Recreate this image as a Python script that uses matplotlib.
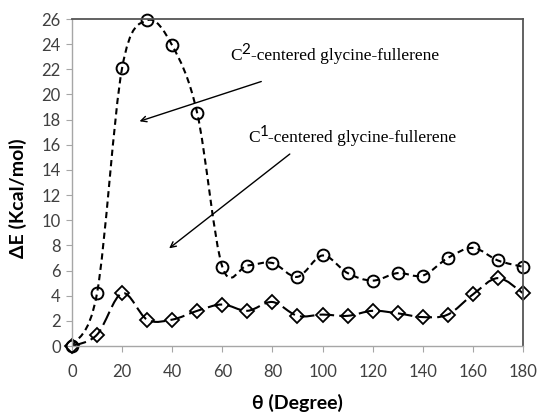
import numpy as np
import matplotlib
matplotlib.use("Agg")
import matplotlib.pyplot as plt
from matplotlib.path import Path
from matplotlib.patches import PathPatch

# data
theta = [0, 10, 20, 30, 40, 50, 60, 70, 80, 90, 100, 110, 120, 130, 140, 150, 160, 170, 180]
c2_energy = [0, 4.2, 22.1, 25.9, 23.9, 18.5, 6.3, 6.4, 6.6, 5.5, 7.2, 5.8, 5.2, 5.8, 5.6, 7.0, 7.8, 6.8, 6.3]
c1_energy = [0, 0.9, 4.2, 2.1, 2.1, 2.8, 3.3, 2.8, 3.5, 2.4, 2.5, 2.4, 2.8, 2.6, 2.3, 2.5, 4.1, 5.4, 4.2]
x_ticks = list(range(0, 181, 20))
y_ticks = list(range(0, 27, 2))

tick_font = ['Lato', 'DejaVu Sans']
serif_font = ['Liberation Serif', 'DejaVu Serif']


def smooth_path(xs, ys):
    # Excel-style smoothed line: cubic Bezier through each point
    pts = np.column_stack([xs, ys]).astype(float)
    n = len(pts)
    verts = [pts[0]]
    codes = [Path.MOVETO]
    for i in range(n - 1):
        p_prev = pts[i - 1] if i > 0 else pts[i]
        p_next2 = pts[i + 2] if i + 2 < n else pts[i + 1]
        c1 = pts[i] + (pts[i + 1] - p_prev) / 6.0
        c2 = pts[i + 1] - (p_next2 - pts[i]) / 6.0
        verts += [c1, c2, pts[i + 1]]
        codes += [Path.CURVE4] * 3
    return Path(verts, codes)


def label_with_sup(ax, x, y, sup, rest):
    # "C" + raised digit + rest of the label, all on one baseline
    base = ax.text(x, y, 'C', family=serif_font, fontsize=12.5, va='baseline', ha='left')
    s = ax.annotate(sup, xy=(1.0, 0.45), xycoords=base, family=tick_font, fontsize=11,
                    va='bottom', ha='left')
    ax.annotate(rest, xy=(1.0, y), xycoords=(s, 'data'), family=serif_font, fontsize=12.5,
                va='baseline', ha='left')


fig = plt.figure(figsize=(5.4, 4.18), dpi=100)
ax = fig.add_axes([0.1333, 0.1722, 0.8352, 0.7823])

ax.add_patch(PathPatch(smooth_path(theta, c2_energy), facecolor='none', edgecolor='black',
                       linewidth=1.5, linestyle=(0, (3.0, 2.0))))
ax.add_patch(PathPatch(smooth_path(theta, c1_energy), facecolor='none', edgecolor='black',
                       linewidth=1.5, linestyle=(0, (7.0, 2.5))))
ax.plot(theta, c2_energy, linestyle='none', marker='o', markersize=8.5,
        markerfacecolor='none', markeredgecolor='black', markeredgewidth=1.4, clip_on=False)
ax.plot(theta, c1_energy, linestyle='none', marker='D', markersize=7,
        markerfacecolor='none', markeredgecolor='black', markeredgewidth=1.3, clip_on=False)

ax.set_xlim(0, 180)
ax.set_ylim(0, 26)
ax.set_xticks(x_ticks)
ax.set_yticks(y_ticks)
ax.set_xticklabels([str(v) for v in x_ticks], family=tick_font, fontsize=12, color='#404040')
ax.set_yticklabels([str(v) for v in y_ticks], family=tick_font, fontsize=12, color='#404040')
ax.tick_params(axis='x', direction='out', length=4, color='#A6A6A6', pad=9)
ax.tick_params(axis='y', direction='out', length=4, color='#A6A6A6', pad=4)

for side in ['left', 'bottom']:
    ax.spines[side].set_color('#A6A6A6')
    ax.spines[side].set_linewidth(1.0)
for side in ['top', 'right']:
    ax.spines[side].set_color('#555555')
    ax.spines[side].set_linewidth(1.3)

ax.set_xlabel('θ (Degree)', family=tick_font, fontsize=14, fontweight='bold', labelpad=10)
ax.set_ylabel('ΔE (Kcal/mol)', family=tick_font, fontsize=14, fontweight='bold')
ax.yaxis.set_label_coords(-0.1, 0.451)

# annotations
label_with_sup(ax, 63.1, 22.74, '2', '-centered glycine-fullerene')
ax.annotate('', xy=(25.9, 17.8), xytext=(76.6, 21.1),
            arrowprops=dict(arrowstyle='->', color='black', lw=1.0))
label_with_sup(ax, 70.2, 16.22, '1', '-centered glycine-fullerene')
ax.annotate('', xy=(37.9, 7.63), xytext=(87.8, 15.4),
            arrowprops=dict(arrowstyle='->', color='black', lw=1.0))

fig.savefig('out.png', dpi=100)
